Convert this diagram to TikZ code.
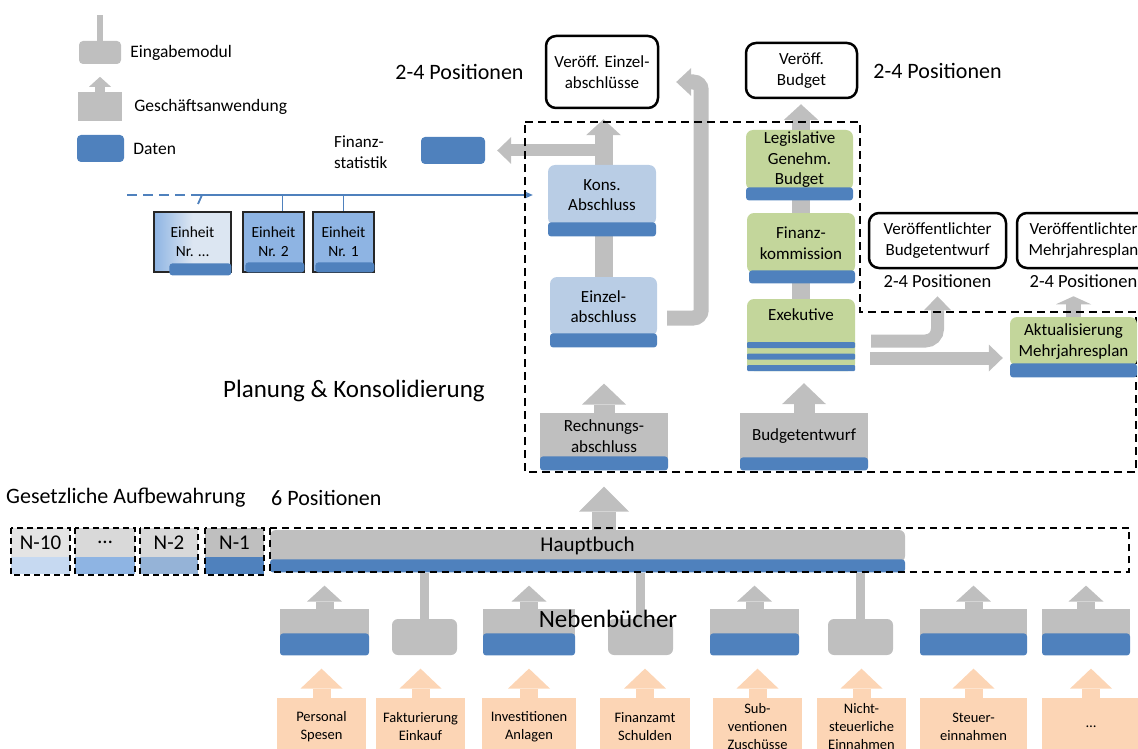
\documentclass[tikz,border=0pt]{standalone}
\usepackage{fontspec}
\setmainfont{Carlito}
\usepackage{xcolor}
\usetikzlibrary{arrows.meta, positioning, backgrounds, calc}

\definecolor{grau}{HTML}{BFBFBF}
\definecolor{hellgrau}{HTML}{D9D9D9}
\definecolor{datenblau}{HTML}{4F81BD}
\definecolor{hellblau}{HTML}{B9CDE5}
\definecolor{gruen}{HTML}{C3D69B}
\definecolor{pfirsich}{HTML}{FCD5B5}
\definecolor{einheitblau}{HTML}{8EB4E3}
\definecolor{einheithell}{HTML}{DCE6F2}
\definecolor{blassblau}{HTML}{C6D9F1}
\definecolor{mittelblau}{HTML}{95B3D7}

\begin{document}
\begin{tikzpicture}[x=1pt, y=-1pt, every node/.style={inner sep=0pt}]
\tikzstyle{txt} = [font=\fontsize{17}{20.5}\selectfont, align=center]
\tikzstyle{hellbox} = [rectangle, fill=hellblau, rounded corners=7pt, txt]
\tikzstyle{gruenbox} = [rectangle, fill=gruen, rounded corners=7pt, txt]
\tikzstyle{graubox} = [rectangle, fill=grau, txt]
\tikzstyle{daten} = [rectangle, fill=datenblau, rounded corners=3pt]
\tikzstyle{publik} = [rectangle, draw=black, line width=2.5pt, fill=white, rounded corners=10pt, txt]
\tikzstyle{einheit} = [rectangle, draw=black!85, line width=1.2pt, fill=einheitblau, font=\fontsize{15.5}{19}\selectfont, align=center]
\tikzstyle{quelle} = [rectangle, fill=pfirsich, minimum height=57pt, font=\fontsize{14.5}{18}\selectfont, align=center]
\tikzstyle{archiv} = [rectangle, font=\fontsize{21}{24}\selectfont]
\tikzstyle{emod} = [rectangle, fill=grau, rounded corners=6pt, minimum height=36pt]
\tikzstyle{gapp} = [rectangle, fill=grau, minimum height=31pt]
\tikzstyle{titel} = [font=\fontsize{25}{30}\selectfont]
\tikzstyle{posbig} = [font=\fontsize{22}{26}\selectfont]
\tikzstyle{possmall} = [font=\fontsize{18.5}{22}\selectfont]
\tikzstyle{legende} = [font=\fontsize{17.5}{21}\selectfont]
\tikzstyle{rahmen} = [draw=black, line width=2pt, dash pattern=on 8pt off 5pt]
\tikzstyle{rahmenA} = [draw=black, line width=2pt, dash pattern=on 6pt off 4pt]
\tikzstyle{rahmenH} = [draw=black, line width=1.5pt, dash pattern=on 7pt off 5pt]
\tikzstyle{stiel} = [draw=grau, line width=9pt]
\tikzstyle{busline} = [draw=datenblau, line width=1.8pt]
\tikzstyle{pfeilXS} = [draw=grau, line width=10pt, -{Triangle[length=10pt, width=22pt, line width=0pt]}]
\tikzstyle{pfeilS} = [draw=grau, line width=13pt, -{Triangle[length=14pt, width=27pt, line width=0pt]}]
\tikzstyle{pfeilF} = [draw=grau, line width=15pt, -{Triangle[length=8pt, width=35pt, line width=0pt]}]
\tikzstyle{pfeilC} = [draw=grau, line width=15pt, -{Triangle[length=15pt, width=28pt, line width=0pt]}]
\tikzstyle{pfeilM} = [draw=grau, line width=18pt, -{Triangle[length=16pt, width=35pt, line width=0pt]}]
\tikzstyle{pfeilL} = [draw=grau, line width=21pt, -{Triangle[length=21pt, width=44pt, line width=0pt]}]
\tikzstyle{pfeilXL} = [draw=grau, line width=24pt, -{Triangle[length=25pt, width=50pt, line width=0pt]}]
\tikzstyle{pfeilO} = [draw=pfirsich, line width=18pt, -{Triangle[length=20pt, width=42pt, line width=0pt]}]

\useasboundingbox (0,0) rectangle (1138,749);
\clip (0,0) rectangle (1138,749);

% Legende
\node (legE) [emod, minimum width=42pt, minimum height=23pt, rounded corners=4pt] at (100,52.5) {};
\node (legG) [gapp, minimum width=44pt, minimum height=29pt] at (100,106.5) {};
\node (legD) [daten, minimum width=47pt, minimum height=27pt, rounded corners=4pt] at (100.5,148.5) {};
\node (lblE) [legende, right=9pt of legE] {Eingabemodul};
\node (lblG) [legende, right=12pt of legG] {Geschäftsanwendung};
\node (lblD) [legende, right=9pt of legD] {Daten};
\draw [draw=grau, line width=6pt] (legE.north) -- ++(0,-26);
\draw [pfeilXS] (legG.north) -- ++(0,-15);

% Finanzstatistik und Einheiten
\node (finLbl) [txt, align=left, anchor=west] at (334,152) {Finanz-\\statistik};
\node (fin) [daten, minimum width=64pt, minimum height=27pt, rounded corners=4pt] at (453,150.5) {};
\coordinate (busL) at (127,195);
\coordinate (busM) at (200,195);
\node (einX) [einheit, minimum width=77pt, minimum height=60pt, left color=einheitblau, right color=einheithell, middle color=einheithell] at (192.5,242) {Einheit\\Nr. …};
\node (einXD) [daten, minimum width=62pt, minimum height=12pt, anchor=south east] at ([yshift=-3pt]einX.south east) {};
\node (ein2) [einheit, minimum width=61pt, minimum height=60pt] at (273.5,242) {Einheit\\Nr. 2};
\node (ein2D) [daten, minimum width=59pt, minimum height=10pt, anchor=south east] at (ein2.south east) {};
\node (ein1) [einheit, minimum width=61pt, minimum height=60pt] at (343.5,242) {Einheit\\Nr. 1};
\node (ein1D) [daten, minimum width=59pt, minimum height=10pt, anchor=south east] at (ein1.south east) {};

% Veroeffentlichungen
\node (veroeffE) [publik, minimum width=112pt, minimum height=72pt] at (602,72) {Veröff. Einzel-\\abschlüsse};
\node (posE) [posbig, left=21pt of veroeffE] {2-4 Positionen};
\node (veroeffB) [publik, minimum width=111pt, minimum height=55pt] at (801.5,70.5) {Veröff.\\Budget};
\node (posB) [posbig, right=15pt of veroeffB] {2-4 Positionen};
\node (pubBE) [publik, minimum width=137pt, minimum height=55pt] at (937.5,240.5) {Veröffentlichter\\Budgetentwurf};
\node (posBE) [possmall, below=5pt of pubBE] {2-4 Positionen};
\node (pubMP) [publik, minimum width=133pt, minimum height=55pt] at (1083.5,240.5) {Veröffentlichter\\Mehrjahresplan};
\node (posMP) [possmall, below=5pt of pubMP] {2-4 Positionen};

% Planung & Konsolidierung
\node (kons) [hellbox, minimum width=108pt, minimum height=60pt] at (602,195) {Kons.\\Abschluss};
\node (konsD) [daten, minimum width=108pt, minimum height=14pt, below=-3pt of kons] {};
\node (einzel) [hellbox, minimum width=107pt, minimum height=59pt] at (603.5,306.5) {Einzel-\\abschluss};
\node (einzelD) [daten, minimum width=107pt, minimum height=14pt, below=-3pt of einzel] {};
\node (rechn) [graubox, minimum width=128pt, minimum height=46pt] at (604,436) {Rechnungs-\\abschluss};
\node (rechnD) [daten, minimum width=128pt, minimum height=14pt, below=-3pt of rechn] {};
\node (budgE) [graubox, minimum width=128pt, minimum height=47pt] at (804,436.5) {Budgetentwurf};
\node (budgED) [daten, minimum width=128pt, minimum height=13pt, below=-3pt of budgE] {};
\node (legis) [gruenbox, minimum width=107pt, minimum height=60pt] at (799.5,160) {Legislative\\Genehm.\\Budget};
\node (legisD) [daten, minimum width=107pt, minimum height=13pt, below=-3pt of legis] {};
\node (finanzK) [gruenbox, minimum width=108pt, minimum height=60pt] at (801,243) {Finanz-\\kommission};
\node (finanzKD) [daten, minimum width=106pt, minimum height=13pt, below=-3pt of finanzK, xshift=1pt] {};
\node (exek) [gruenbox, minimum width=108pt, minimum height=72pt, text depth=40pt] at (801,335) {Exekutive};
\node (exekD3) [daten, rounded corners=1pt, minimum width=108pt, minimum height=6pt, anchor=south] at (exek.south) {};
\node (exekD2) [daten, rounded corners=1pt, minimum width=108pt, minimum height=6pt, above=5pt of exekD3] {};
\node (exekD1) [daten, rounded corners=1pt, minimum width=108pt, minimum height=6pt, above=5pt of exekD2] {};
\node (aktual) [gruenbox, minimum width=127pt, minimum height=49pt] at (1073.5,341.5) {Aktualisierung\\Mehrjahresplan};
\node (aktualD) [daten, minimum width=127pt, minimum height=14pt, below=-3pt of aktual] {};
\node (planung) [titel] at (354,391) {Planung \& Konsolidierung};

% Aufbewahrung und Hauptbuch
\node (gesetz) [posbig, anchor=west] at (6,498) {Gesetzliche Aufbewahrung};
\node (pos6) [posbig, anchor=west] at (271,498) {6 Positionen};
\node (a10) [archiv, fill=hellgrau!70, minimum width=59pt, minimum height=29pt] at (40.5,542.5) {N-10};
\node (a10D) [rectangle, fill=blassblau, minimum width=59pt, minimum height=17pt, below=0pt of a10] {};
\node (a3) [archiv, fill=hellgrau, minimum width=60pt, minimum height=29pt] at (105,542.5) {…};
\node (a3D) [rectangle, fill=einheitblau, minimum width=60pt, minimum height=17pt, below=0pt of a3] {};
\node (a2) [archiv, fill=hellgrau, minimum width=58pt, minimum height=29pt] at (169,542.5) {N-2};
\node (a2D) [rectangle, fill=mittelblau, minimum width=58pt, minimum height=17pt, below=0pt of a2] {};
\node (a1) [archiv, fill=grau, minimum width=59pt, minimum height=29pt] at (234.5,542.5) {N-1};
\node (a1D) [rectangle, fill=datenblau, minimum width=59pt, minimum height=17pt, below=0pt of a1] {};
\draw [rahmenA] (a10.north west) rectangle (a10D.south east);
\draw [rahmenA] (a3.north west) rectangle (a3D.south east);
\draw [rahmenA] (a2.north west) rectangle (a2D.south east);
\draw [rahmenA] (a1.north west) rectangle (a1D.south east);
\node (hb) [archiv, fill=grau, rounded corners=6pt, minimum width=635pt, minimum height=32pt] at (587.5,546) {Hauptbuch};
\node (hbD) [daten, minimum width=635pt, minimum height=13pt, below=-3pt of hb] {};
\coordinate (hbEnde) at (1129,572);
\draw [rahmenH] ([yshift=2pt]hb.north west) rectangle (hbEnde);

% Nebenbuecher
\node (mP) [gapp, minimum width=89pt] at (324.5,624.5) {};
\node (mPD) [daten, minimum width=89pt, minimum height=22pt, below=-7pt of mP] {};
\node (mF) [emod, minimum width=65pt] at (424.5,637) {};
\node (mI) [gapp, minimum width=92pt] at (529,624.5) {};
\node (mID) [daten, minimum width=92pt, minimum height=22pt, below=-7pt of mI] {};
\node (mFa) [emod, minimum width=65pt] at (640.5,637) {};
\node (mS) [gapp, minimum width=89pt] at (754.5,624.5) {};
\node (mSD) [daten, minimum width=89pt, minimum height=22pt, below=-7pt of mS] {};
\node (mN) [emod, minimum width=65pt] at (860.5,637) {};
\node (mSt) [gapp, minimum width=107pt] at (973.5,624.5) {};
\node (mStD) [daten, minimum width=107pt, minimum height=22pt, below=-7pt of mSt] {};
\node (mD) [gapp, minimum width=88pt] at (1086,624.5) {};
\node (mDD) [daten, minimum width=88pt, minimum height=22pt, below=-7pt of mD] {};
\node (neben) [titel] at (608,619) {Nebenbücher};

% Quellen
\node (sP) [quelle, minimum width=89pt] at (321.5,726.5) {Personal\\Spesen};
\node (sF) [quelle, minimum width=89pt] at (420.5,726.5) {Fakturierung\\Einkauf};
\node (sI) [quelle, minimum width=94pt] at (529,726.5) {Investitionen\\Anlagen};
\node (sFa) [quelle, minimum width=90pt] at (645,726.5) {Finanzamt\\Schulden};
\node (sS) [quelle, minimum width=89pt] at (757.5,726.5) {Sub-\\ventionen\\Zuschüsse};
\node (sN) [quelle, minimum width=89pt] at (861.5,726.5) {Nicht-\\steuerliche\\Einnahmen};
\node (sSt) [quelle, minimum width=107pt] at (973.5,726.5) {Steuer-\\einnahmen};
\node (sD) [quelle, minimum width=98pt] at (1091,726.5) {…};

\begin{scope}[on background layer]
% Pfeile
\draw [pfeilM, shorten >=10pt] (einzel.north) -- (einzel.north |- veroeffE.south);
\draw [pfeilS, line width=12pt, shorten >=12pt] (kons.north |- fin.east) -- (fin.east);
\draw [pfeilC, rounded corners=8pt] ($(einzel.east)+(10,11.5)$) -- ++(34,0) -- ++(0,-236) -- ++(-25,0);
\draw [pfeilM, shorten >=5pt] (exek.north) -- (exek.north |- veroeffB.south);
\draw [pfeilL, shorten >=12pt] (budgE.north) -- (budgE.north |- exekD3.south);
\draw [pfeilL, shorten >=36pt] (rechn.north) -- (rechn.north |- einzelD.south);
\draw [pfeilXL, shorten >=16pt] (rechn.south |- hb.north) -- (rechnD.south);
\draw [pfeilS, rounded corners=12pt, shorten <=16pt, shorten >=27pt] ([yshift=-6pt]exek.east) -| (pubBE.south);
\draw [pfeilS, shorten <=15pt, shorten >=7pt] ($(exek.east)+(0,23)$) -- ($(exek.east -| aktual.west)+(0,23)$);
\draw [pfeilF, shorten >=27pt] (aktual.north) -- (aktual.north |- pubMP.south);
\draw [pfeilM, shorten >=13pt] (mP.north) -- (mP.north |- hbD.south);
\draw [pfeilM, shorten >=13pt] (mI.north) -- (mI.north |- hbD.south);
\draw [pfeilM, shorten >=13pt] (mS.north) -- (mS.north |- hbD.south);
\draw [pfeilM, shorten >=13pt] (mSt.north) -- (mSt.north |- hbD.south);
\draw [pfeilM, shorten >=13pt] (mD.north) -- (mD.north |- hbD.south);
\draw [stiel] (mF.north) -- (mF.north |- hbD.south);
\draw [stiel] (mFa.north) -- (mFa.north |- hbD.south);
\draw [stiel] (mN.north) -- (mN.north |- hbD.south);
\draw [pfeilO, shorten >=13pt] (sP.north) -- (sP.north |- mPD.south);
\draw [pfeilO, shorten >=13pt] (sF.north) -- (sF.north |- mPD.south);
\draw [pfeilO, shorten >=13pt] (sI.north) -- (sI.north |- mPD.south);
\draw [pfeilO, shorten >=13pt] (sFa.north) -- (sFa.north |- mPD.south);
\draw [pfeilO, shorten >=13pt] (sS.north) -- (sS.north |- mPD.south);
\draw [pfeilO, shorten >=13pt] (sN.north) -- (sN.north |- mPD.south);
\draw [pfeilO, shorten >=13pt] (sSt.north) -- (sSt.north |- mPD.south);
\draw [pfeilO, shorten >=13pt] (sD.north) -- (sD.north |- mPD.south);
% Datenbus
\draw [busline, dash pattern=on 10pt off 6pt] (busL) -- (busM);
\draw [busline, -{Stealth[length=8pt, width=7pt]}, shorten >=15pt] (busM) -- (kons.west);
\draw [busline] ([xshift=2pt]busM) -- ++(-4,9);
\draw [busline] ([xshift=9pt]ein2.north) -- ++(0,-17);
\draw [busline] (ein1.north) -- (ein1.north |- busM);
% Rahmen
\draw [rahmen] (525,122) -- (860,122) -- (860,312) -- (1136,312) -- (1136,472) -- (525,472) -- cycle;
\end{scope}
\end{tikzpicture}
\end{document}
